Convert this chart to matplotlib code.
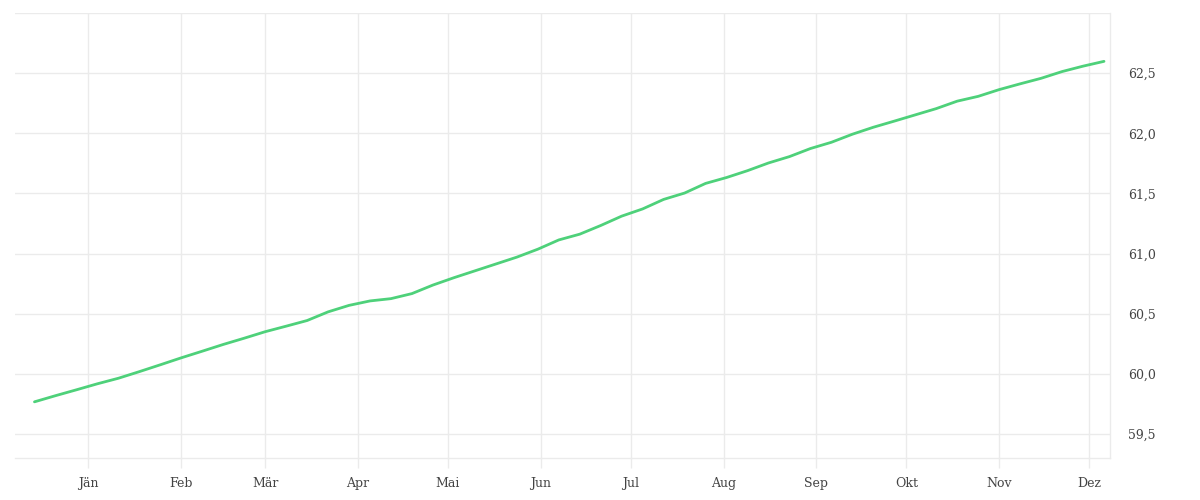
import matplotlib
matplotlib.use("Agg")
import matplotlib.pyplot as plt
import matplotlib.dates as mdates
import numpy as np
import pandas as pd

start_date = "2022-12-14"
n_weeks = 52
values = [59.767, 59.818, 59.867, 59.917, 59.963, 60.018, 60.075, 60.133, 60.188, 60.244,
          60.296, 60.350, 60.396, 60.443, 60.515, 60.569, 60.606, 60.625, 60.667, 60.738,
          60.799, 60.856, 60.913, 60.970, 61.036, 61.113, 61.161, 61.233, 61.311, 61.371,
          61.450, 61.503, 61.583, 61.632, 61.689, 61.753, 61.806, 61.873, 61.925, 61.992,
          62.050, 62.101, 62.153, 62.205, 62.267, 62.307, 62.363, 62.411, 62.457, 62.513,
          62.558, 62.598]
month_labels = ["Jän", "Feb", "Mär", "Apr", "Mai", "Jun", "Jul", "Aug", "Sep", "Okt", "Nov", "Dez"]
month_ticks = pd.date_range("2023-01-01", periods=12, freq="MS")
y_ticks = [59.5, 60.0, 60.5, 61.0, 61.5, 62.0, 62.5]

dates = pd.date_range(start_date, periods=n_weeks, freq="7D")

plt.rcParams['font.family'] = ['DejaVu Serif']
fig = plt.figure(figsize=(12, 5), dpi=100)
ax = fig.add_axes([0.0125, 0.084, 0.9125, 0.89])

grid_c = "#ebebeb"
ax.plot(dates, values, color="#4ed17a", linewidth=2.0, solid_capstyle="round", zorder=3)

ax.set_xlim(pd.Timestamp("2022-12-07 12:00"), pd.Timestamp("2023-12-08"))
ax.set_ylim(59.3, 63.0)
ax.set_xticks(month_ticks)
ax.set_xticklabels(month_labels)
ax.set_yticks(y_ticks)
ax.set_yticklabels([f"{v:.1f}".replace(".", ",") for v in y_ticks])
ax.yaxis.tick_right()

ax.grid(True, color=grid_c, linewidth=1.0, zorder=0)
ax.axhline(63.0, color=grid_c, linewidth=1.0, zorder=0)
ax.spines["left"].set_visible(False)
for s in ["right", "bottom", "top"]:
    ax.spines[s].set_color(grid_c)
    ax.spines[s].set_linewidth(1.0)
ax.spines["top"].set_visible(False)

ax.tick_params(axis="x", length=7.2, width=1.0, color=grid_c, pad=6.5, labelsize=9, labelcolor="#444444")
ax.tick_params(axis="y", length=0, pad=13, labelsize=9, labelcolor="#444444")
for lbl in ax.get_yticklabels():
    lbl.set_y(lbl.get_position()[1])

fig.savefig("out.png", dpi=100, facecolor="white")
